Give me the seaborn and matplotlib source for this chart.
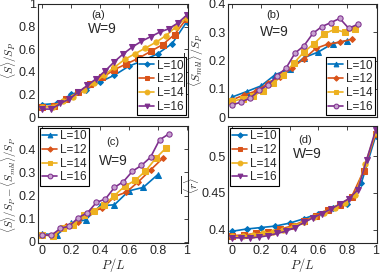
import matplotlib
matplotlib.use("Agg")
import matplotlib.pyplot as plt
import pandas as pd
import seaborn as sns

# MATLAB default colours, one per system size
sizes = [10, 12, 14, 16]
colors = ["#0072BD", "#D95319", "#EDB120", "#7E2F8E"]

# (a) <S>/S_P, P = 0..L
a_L10 = [0.11, 0.12, 0.20, 0.24, 0.31, 0.37, 0.45, 0.50, 0.56, 0.65, 0.84]
a_L12 = [0.09, 0.10, 0.16, 0.22, 0.29, 0.35, 0.42, 0.47, 0.52, 0.58, 0.64, 0.73, 0.87]
a_L14 = [0.09, 0.09, 0.14, 0.18, 0.24, 0.30, 0.37, 0.44, 0.51, 0.56, 0.61, 0.66, 0.72, 0.80, 0.88]
a_L16 = [0.07, 0.07, 0.12, 0.16, 0.22, 0.28, 0.34, 0.41, 0.49, 0.56, 0.62, 0.67, 0.71, 0.75,
         0.78, 0.83, 0.90]

# (b) <S_mbl>/S_P, P = 0..L-2
b_L10 = [0.071, 0.09, 0.11, 0.15, 0.17, 0.21, 0.23, 0.26, 0.27]
b_L12 = [0.061, 0.078, 0.092, 0.12, 0.14, 0.175, 0.205, 0.243, 0.258, 0.265, 0.275]
b_L14 = [0.055, 0.065, 0.075, 0.093, 0.12, 0.15, 0.19, 0.23, 0.26, 0.295, 0.31, 0.30, 0.31]
b_L16 = [0.043, 0.053, 0.067, 0.094, 0.114, 0.146, 0.173, 0.226, 0.252, 0.296, 0.32, 0.334,
         0.349, 0.314, 0.328]

# (c) difference, P = 0..L-2
c_L10 = [0.035, 0.03, 0.08, 0.095, 0.155, 0.16, 0.22, 0.235, 0.29]
c_L12 = [0.03, 0.028, 0.07, 0.085, 0.13, 0.145, 0.195, 0.215, 0.26, 0.31, 0.36]
c_L14 = [0.03, 0.025, 0.06, 0.072, 0.115, 0.135, 0.16, 0.20, 0.24, 0.265, 0.305, 0.36, 0.405]
c_L16 = [0.03, 0.028, 0.058, 0.068, 0.105, 0.125, 0.17, 0.185, 0.235, 0.26, 0.305, 0.33,
         0.365, 0.44, 0.465]

# (d) <r>, P = 0..L
d_L10 = [0.398, 0.401, 0.403, 0.405, 0.409, 0.415, 0.422, 0.429, 0.435, 0.463, 0.527]
d_L12 = [0.392, 0.393, 0.395, 0.397, 0.401, 0.405, 0.412, 0.419, 0.427, 0.434, 0.445, 0.48, 0.53]
d_L14 = [0.391, 0.391, 0.393, 0.395, 0.397, 0.40, 0.405, 0.411, 0.417, 0.423, 0.43, 0.437,
         0.447, 0.49, 0.532]
d_L16 = [0.389, 0.389, 0.389, 0.39, 0.392, 0.395, 0.398, 0.403, 0.41, 0.416, 0.422, 0.428,
         0.435, 0.442, 0.454, 0.495, 0.535]

markers_ad = ["D", "s", "o", "v"]
markers_bc = ["^", "D", "s", "o"]

SANS = "Liberation Sans"


def to_frame(series):
    rows = []
    for L, vals in zip(sizes, series):
        for k, v in enumerate(vals):
            rows.append({"L": f"L={L}", "x": k / L, "y": v})
    return pd.DataFrame(rows)


def draw_panel(ax, series, markers, tag, ylim, yticks, ylabel, tag_pos, w_pos, legend_loc,
               label_x, show_x=False, ylabel_size=8.5):
    df = to_frame(series)
    for (name, grp), col, mk in zip(df.groupby("L", sort=False), colors, markers):
        mfc = col
        if mk == "o" and markers is markers_bc:
            mfc = "#c8a2d0"
        ms = 3.0 if mk == "D" else 3.8
        sns.lineplot(data=grp, x="x", y="y", ax=ax, color=col, marker=mk, markersize=ms,
                     markerfacecolor=mfc, markeredgecolor=col, linewidth=1.2, label=name)
    ax.set_xlim(-0.03, 1.01)
    ax.set_ylim(*ylim)
    ax.set_xticks([0, 0.2, 0.4, 0.6, 0.8, 1])
    ax.set_yticks(yticks)
    ax.set_yticklabels([f"{t:g}" for t in yticks], fontfamily=SANS)
    if show_x:
        ax.set_xticklabels(["0", "0.2", "0.4", "0.6", "0.8", "1"], fontfamily=SANS)
        ax.set_xlabel("$P/L$", fontsize=9, labelpad=-0.5)
    else:
        ax.set_xticklabels([])
        ax.set_xlabel("")
    ax.set_ylabel(ylabel, fontsize=ylabel_size)
    ax.yaxis.set_label_coords(label_x, 0.5)
    ax.tick_params(direction="in", top=True, right=True, length=3, width=0.6,
                   labelsize=9, pad=1.5)
    for sp in ax.spines.values():
        sp.set_linewidth(0.8)
        sp.set_color("#262626")
    ax.grid(False)
    ax.text(*tag_pos, tag, transform=ax.transAxes, ha="center", va="center",
            fontsize=8, fontfamily=SANS)
    ax.text(*w_pos, "W=9", transform=ax.transAxes, ha="center", va="center",
            fontsize=10, fontfamily=SANS)
    leg = ax.legend(loc=legend_loc, frameon=True, fancybox=False, borderpad=0.2,
                    handlelength=1.3, handletextpad=0.25, labelspacing=0.15,
                    borderaxespad=0.15, markerscale=0.9,
                    prop={"family": SANS, "size": 8.5})
    leg.get_frame().set_edgecolor("black")
    leg.get_frame().set_linewidth(0.8)
    leg.get_frame().set_alpha(1)


sns.set_theme(style="white")
plt.rcParams["mathtext.fontset"] = "cm"
plt.rcParams["font.family"] = [SANS, "DejaVu Sans"]

fig = plt.figure(figsize=(3.81, 2.73), dpi=100)
W, H = 381, 273
ax_a = fig.add_axes([38 / W, (H - 117) / H, 150 / W, 113 / H])
ax_b = fig.add_axes([228 / W, (H - 117) / H, 149 / W, 113 / H])
ax_c = fig.add_axes([38 / W, (H - 243) / H, 150 / W, 117 / H])
ax_d = fig.add_axes([228 / W, (H - 243) / H, 149 / W, 117 / H])

draw_panel(ax_a, [a_L10, a_L12, a_L14, a_L16], markers_ad, "(a)", (0, 1),
           [0, 0.2, 0.4, 0.6, 0.8, 1], r"$\overline{\langle S\rangle}/S_P$",
           (0.40, 0.90), (0.43, 0.78), "lower right", label_x=-0.125, ylabel_size=8)
draw_panel(ax_b, [b_L10, b_L12, b_L14, b_L16], markers_bc, "(b)", (0, 0.4),
           [0, 0.1, 0.2, 0.3, 0.4], r"$\overline{\langle S_{mbl}\rangle}/S_P$",
           (0.30, 0.90), (0.31, 0.75), "lower right", label_x=-0.145)
draw_panel(ax_c, [c_L10, c_L12, c_L14, c_L16], markers_bc, "(c)", (-0.005, 0.5),
           [0, 0.1, 0.2, 0.3, 0.4],
           r"$\overline{\langle S\rangle}/S_P-\overline{\langle S_{mbl}\rangle}/S_P$",
           (0.50, 0.86), (0.50, 0.70), "upper left", label_x=-0.125, show_x=True,
           ylabel_size=7.8)
draw_panel(ax_d, [d_L10, d_L12, d_L14, d_L16], markers_ad, "(d)", (0.382, 0.541),
           [0.4, 0.45, 0.5], r"$\overline{\langle r\rangle}$",
           (0.52, 0.88), (0.53, 0.76), "upper left", label_x=-0.175, show_x=True)

fig.savefig("out.png", dpi=100)
